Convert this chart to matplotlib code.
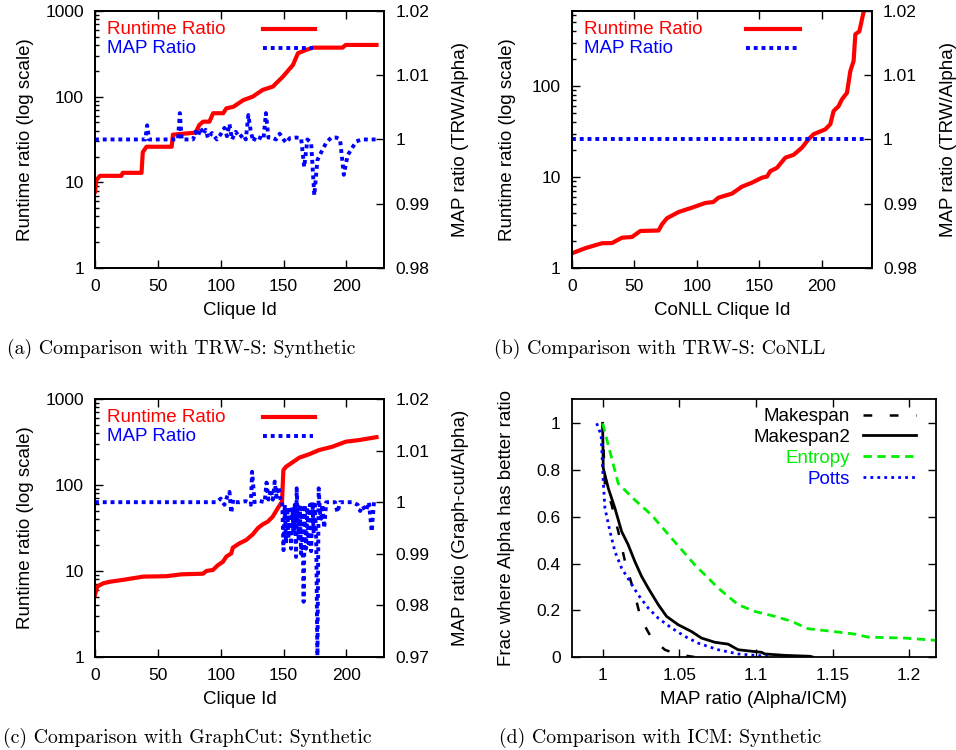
import matplotlib
matplotlib.use('Agg')
import matplotlib.pyplot as plt
from matplotlib.lines import Line2D

plt.rcParams['font.family'] = ['Liberation Sans', 'DejaVu Sans']
plt.rcParams['font.size'] = 12.5
plt.rcParams['axes.labelsize'] = 13.5

# (a) TRW-S synthetic
ra_x = [0, 1, 4, 21, 22, 37, 38, 41, 61, 62, 80, 83, 86, 91, 94, 102, 104.5, 110, 118, 125.5,
        133.5, 141.5, 149.5, 157.5, 161.5, 168, 173.5, 197, 199.5, 224]
ra_y = [7.8, 10.6, 11.9, 11.9, 12.9, 12.9, 22.5, 26, 26, 36, 38, 46.7, 51, 51, 64, 64, 73, 76, 91, 100,
        120, 131, 171, 234, 321, 351, 373, 373, 401, 401]
ma_x = [0, 40, 41.5, 43, 66, 67.5, 69, 78, 80, 82, 84, 86, 88, 90, 93, 97, 100, 103, 105, 107,
        109, 112, 115, 118, 120, 122, 124, 126, 128, 132, 134, 136, 138, 141, 144, 147, 150, 152, 155, 160,
        164, 166.5, 169, 172, 174.5, 177, 180, 184, 188, 192, 195, 198, 201, 204, 208, 212, 224]
ma_y = [1.0, 1.0, 1.0022, 1.0, 1.0, 1.0041, 1.0, 1.0, 1.0012, 1.0005,
        1.0018, 1.0008, 1.0015, 1.0002, 1.001, 1.0, 1.0008, 1.0018, 1.0005, 1.0024,
        1.0, 1.0012, 1.0003, 1.0008, 1.0, 1.0038, 1.0012, 0.9997, 1.0005, 1.0002,
        1.0, 1.0041, 1.0003, 1.0003, 1.0, 1.0009, 1.0, 0.9995, 1.0002, 1.0003,
        1.0002, 0.9957, 1.0, 0.9995, 0.9913, 0.9968, 0.998, 0.9995, 1.0003, 1.0003,
        1.0, 0.9945, 0.9975, 0.9985, 0.9997, 1.0, 1.0]

# (b) TRW-S CoNLL
rb_x = [0, 10.7, 24, 32, 40, 48, 54.7, 69.3, 72, 76, 85.3, 96, 106.7, 113, 117.3, 128, 136, 144, 152, 156,
        158.7, 164, 170.7, 177.3, 184, 189.3, 193.3, 202.7, 206.7, 209.3, 213.3, 216, 220, 222.7, 225.3,
        226.7, 229.9, 234]
rb_y = [1.45, 1.65, 1.87, 1.88, 2.15, 2.19, 2.55, 2.58, 3.02, 3.52, 4.12, 4.6, 5.18, 5.3, 5.93, 6.56, 7.83,
        8.66, 9.83, 10.1, 11.6, 12.6, 16.3, 17.5, 21, 26, 29.5, 33.4, 38, 53, 60, 71.4, 84, 146, 188,
        370, 398, 720]
mb_x = [0, 234]
mb_y = [1.0, 1.0]

# (c) GraphCut synthetic
rc_x = [0, 1.8, 6.6, 11.9, 22.5, 38.3, 56.8, 68.8, 86, 88.6, 93.9, 97.8, 101.8, 104.5, 108.4, 109.7, 115,
        120.3, 125.6, 129.5, 133.5, 137.5, 141.4, 145.4, 148.8, 149.9, 152, 157.3, 162.6, 170.5, 178.4, 189,
        199.6, 210.2, 224]
rc_y = [5.3, 6.6, 7.2, 7.5, 7.9, 8.6, 8.7, 9.15, 9.3, 10, 10.3, 11.7, 12.8, 14.7, 16, 18.7, 21, 22.9, 26.7,
        31.4, 34.9, 37.5, 42.8, 53.6, 64, 149, 163, 184, 208, 228, 255, 279, 319, 333, 360]
mc_x = [0, 97, 100, 103, 105, 107, 108.4, 110, 112, 115, 120, 122, 124, 125, 127, 130, 135, 136.5, 138, 140,
        141.5, 143, 144.5, 146, 148, 149, 150, 151, 152, 153, 154, 155, 156, 157, 158, 159, 160, 160.5, 161, 162,
        163, 164, 165, 166, 167, 168, 169, 170, 171, 172, 173, 174, 175, 176, 177, 178, 179, 180, 181, 182.4,
        184, 188, 191, 193, 195, 205, 209, 211, 213, 215.5, 218, 220.2, 222, 225]
mc_y = [1.0, 1.0, 1.0007, 0.9995, 1.001, 1.002, 0.9979, 1.0005, 1.0, 1.0,
        1.0002, 1.0, 0.9995, 1.0059, 1.0, 1.0003, 1.0, 1.0038, 1.0005, 1.0025,
        1.0005, 1.004, 1.001, 1.003, 1.0, 1.0, 0.9907, 0.9995, 0.992, 0.999,
        0.993, 0.9985, 0.991, 0.999, 0.994, 0.9995, 0.9894, 1.0027, 0.999, 0.993,
        0.999, 0.990, 0.9995, 0.9807, 0.9995, 0.991, 0.999, 0.992, 0.9995, 0.9905,
        1.0, 0.994, 0.9995, 0.993, 0.9695, 1.0027, 0.998, 0.9968, 0.9995, 0.995,
        1.0, 1.0, 1.0, 0.998, 1.0, 1.0, 0.9995, 0.9983, 0.9993, 0.9983,
        1.0, 0.9943, 1.0, 1.0]

# (d) ICM synthetic
ms_x = [1.0, 1.0015, 1.0059, 1.0102, 1.0146, 1.0178, 1.021, 1.0243, 1.0265, 1.0319, 1.0406, 1.0493, 1.06]
ms_y = [1.0, 0.736, 0.651, 0.537, 0.409, 0.338, 0.266, 0.181, 0.145, 0.081, 0.031, 0.01, 0.0]
ms2_x = [1.0, 1.0004, 1.0037, 1.008, 1.0124, 1.0167, 1.021, 1.0254, 1.0298, 1.0363, 1.0417, 1.0493,
         1.058, 1.0645, 1.0732, 1.0819, 1.0884, 1.1037, 1.1058, 1.119, 1.1353, 1.137]
ms2_y = [1.0, 0.808, 0.722, 0.637, 0.537, 0.48, 0.409, 0.345, 0.294, 0.224, 0.174, 0.138,
         0.109, 0.081, 0.063, 0.055, 0.031, 0.02, 0.013, 0.007, 0.003, 0.0]
en_x = [1.0, 1.0102, 1.021, 1.0319, 1.045, 1.0602, 1.0754, 1.0884, 1.0993, 1.1123, 1.1232, 1.134,
        1.1493, 1.1645, 1.1732, 1.1971, 1.2178, 1.23]
en_y = [1.0, 0.742, 0.672, 0.608, 0.508, 0.394, 0.295, 0.224, 0.195, 0.174, 0.153, 0.121,
        0.11, 0.098, 0.085, 0.081, 0.071, 0.07]
po_x = [0.9961, 0.999, 1.0004, 1.0015, 1.0048, 1.008, 1.0124, 1.0178, 1.0232, 1.0298, 1.0363, 1.045,
        1.0537, 1.0624, 1.0754, 1.0884, 1.108, 1.11]
po_y = [1.0, 0.95, 0.751, 0.637, 0.537, 0.452, 0.38, 0.323, 0.266, 0.209, 0.166, 0.124,
        0.088, 0.059, 0.031, 0.013, 0.003, 0.0]

RED = '#ff0000'
BLUE = '#0000ff'
GREEN = '#00ee00'
DOT = (0, (1, 1))

fig = plt.figure(figsize=(9.56, 7.5), dpi=100)


def style(ax):
    for s in ax.spines.values():
        s.set_linewidth(1.3)
    ax.tick_params(which='major', direction='in', length=6, width=1, pad=8)
    ax.tick_params(which='minor', direction='in', length=3, width=1)


def ratio_panel(rect, rx, ry, mx, my, xmax, ymax, m_lim, m_ticks, xlabel, rlabel, lx, rlx):
    ax = fig.add_axes(rect)
    ax.plot(rx, ry, color=RED, lw=3)
    ax.set_yscale('log')
    ax.set_xlim(0, xmax)
    ax.set_ylim(1, ymax)
    ax.set_xticks([0, 50, 100, 150, 200])
    ax.set_yticks([t for t in [1, 10, 100, 1000] if t <= ymax])
    ax.set_yticklabels([str(t) for t in [1, 10, 100, 1000] if t <= ymax])
    style(ax)
    ax.tick_params(top=True)
    ax.tick_params(axis='x', which='minor', top=False, bottom=False)
    ax.set_xlabel(xlabel, labelpad=6)
    ax.set_ylabel('Runtime ratio (log scale)', va='center')
    ax.yaxis.set_label_coords(lx, 0.5)

    ax2 = ax.twinx()
    ax2.plot(mx, my, color=BLUE, lw=2.8, linestyle=DOT)
    ax2.set_ylim(*m_lim)
    ax2.set_yticks(m_ticks)
    ax2.set_yticklabels(['%g' % t for t in m_ticks])
    style(ax2)
    ax2.set_ylabel(rlabel, va='center')
    ax2.yaxis.set_label_coords(rlx, 0.5)

    # gnuplot style key: text left, sample on the right
    ax2.text(0.04, 0.928, 'Runtime Ratio', color=RED, fontsize=13.5, transform=ax.transAxes,
             va='center', ha='left')
    ax2.text(0.04, 0.853, 'MAP Ratio', color=BLUE, fontsize=13.5, transform=ax.transAxes,
             va='center', ha='left')
    ax2.add_line(Line2D([0.58, 0.76], [0.93, 0.93], color=RED, lw=3, transform=ax.transAxes))
    ax2.add_line(Line2D([0.58, 0.755], [0.857, 0.857], color=BLUE, lw=2.8, linestyle=DOT,
                        transform=ax.transAxes))
    return ax


ratio_panel([0.0994, 0.6427, 0.3023, 0.3427], ra_x, ra_y, ma_x, ma_y, 230, 1000,
            (0.98, 1.02), [0.98, 0.99, 1.0, 1.01, 1.02], 'Clique Id', 'MAP ratio (TRW/Alpha)',
            -0.24, 1.265)
ratio_panel([0.5983, 0.6427, 0.3138, 0.3427], rb_x, rb_y, mb_x, mb_y, 240, 667,
            (0.98, 1.02), [0.98, 0.99, 1.0, 1.01, 1.02], 'CoNLL Clique Id', 'MAP ratio (TRW/Alpha)',
            -0.215, 1.255)
ratio_panel([0.0994, 0.124, 0.3023, 0.344], rc_x, rc_y, mc_x, mc_y, 230, 1000,
            (0.97, 1.02), [0.97, 0.98, 0.99, 1.0, 1.01, 1.02], 'Clique Id', 'MAP ratio (Graph-cut/Alpha)',
            -0.24, 1.265)

# (d)
axd = fig.add_axes([0.5983, 0.124, 0.3808, 0.344])
axd.plot(ms_x, ms_y, color='black', lw=1.8, linestyle=(0, (3.5, 7)), label='Makespan')
axd.plot(ms2_x, ms2_y, color='black', lw=2, label='Makespan2')
axd.plot(en_x, en_y, color=GREEN, lw=2, linestyle=(0, (3, 2)), label='Entropy')
axd.plot(po_x, po_y, color=BLUE, lw=2, linestyle=(0, (1, 1.5)), label='Potts')
axd.set_xlim(0.98, 1.2175)
axd.set_ylim(0, 1.104)
axd.set_xticks([1, 1.05, 1.1, 1.15, 1.2])
axd.set_xticklabels(['1', '1.05', '1.1', '1.15', '1.2'])
axd.set_yticks([0, 0.2, 0.4, 0.6, 0.8, 1])
axd.set_yticklabels(['0', '0.2', '0.4', '0.6', '0.8', '1'])
style(axd)
axd.tick_params(top=True, right=True)
axd.set_xlabel('MAP ratio (Alpha/ICM)', labelpad=6)
axd.set_ylabel('Frac where Alpha has better ratio', va='center')
axd.yaxis.set_label_coords(-0.18, 0.5)
axd.legend(loc='upper right', bbox_to_anchor=(0.945, 0.965), markerfirst=False, frameon=False,
           fontsize=13.5, handlelength=2.8, handletextpad=0.7, labelspacing=0.2, borderpad=0,
           borderaxespad=0, labelcolor=['black', 'black', GREEN, BLUE])

# captions
cap = dict(fontfamily='cmr10', fontsize=14.3, ha='center', va='center')
fig.text(0.19, 1 - 349 / 750, '(a) Comparison with TRW-S: Synthetic', **cap)
fig.text(0.69, 1 - 349 / 750, '(b) Comparison with TRW-S: CoNLL', **cap)
fig.text(0.196, 1 - 738 / 750, '(c) Comparison with GraphCut: Synthetic', **cap)
fig.text(0.69, 1 - 738 / 750, '(d) Comparison with ICM: Synthetic', **cap)

fig.savefig('out.png', dpi=100)
